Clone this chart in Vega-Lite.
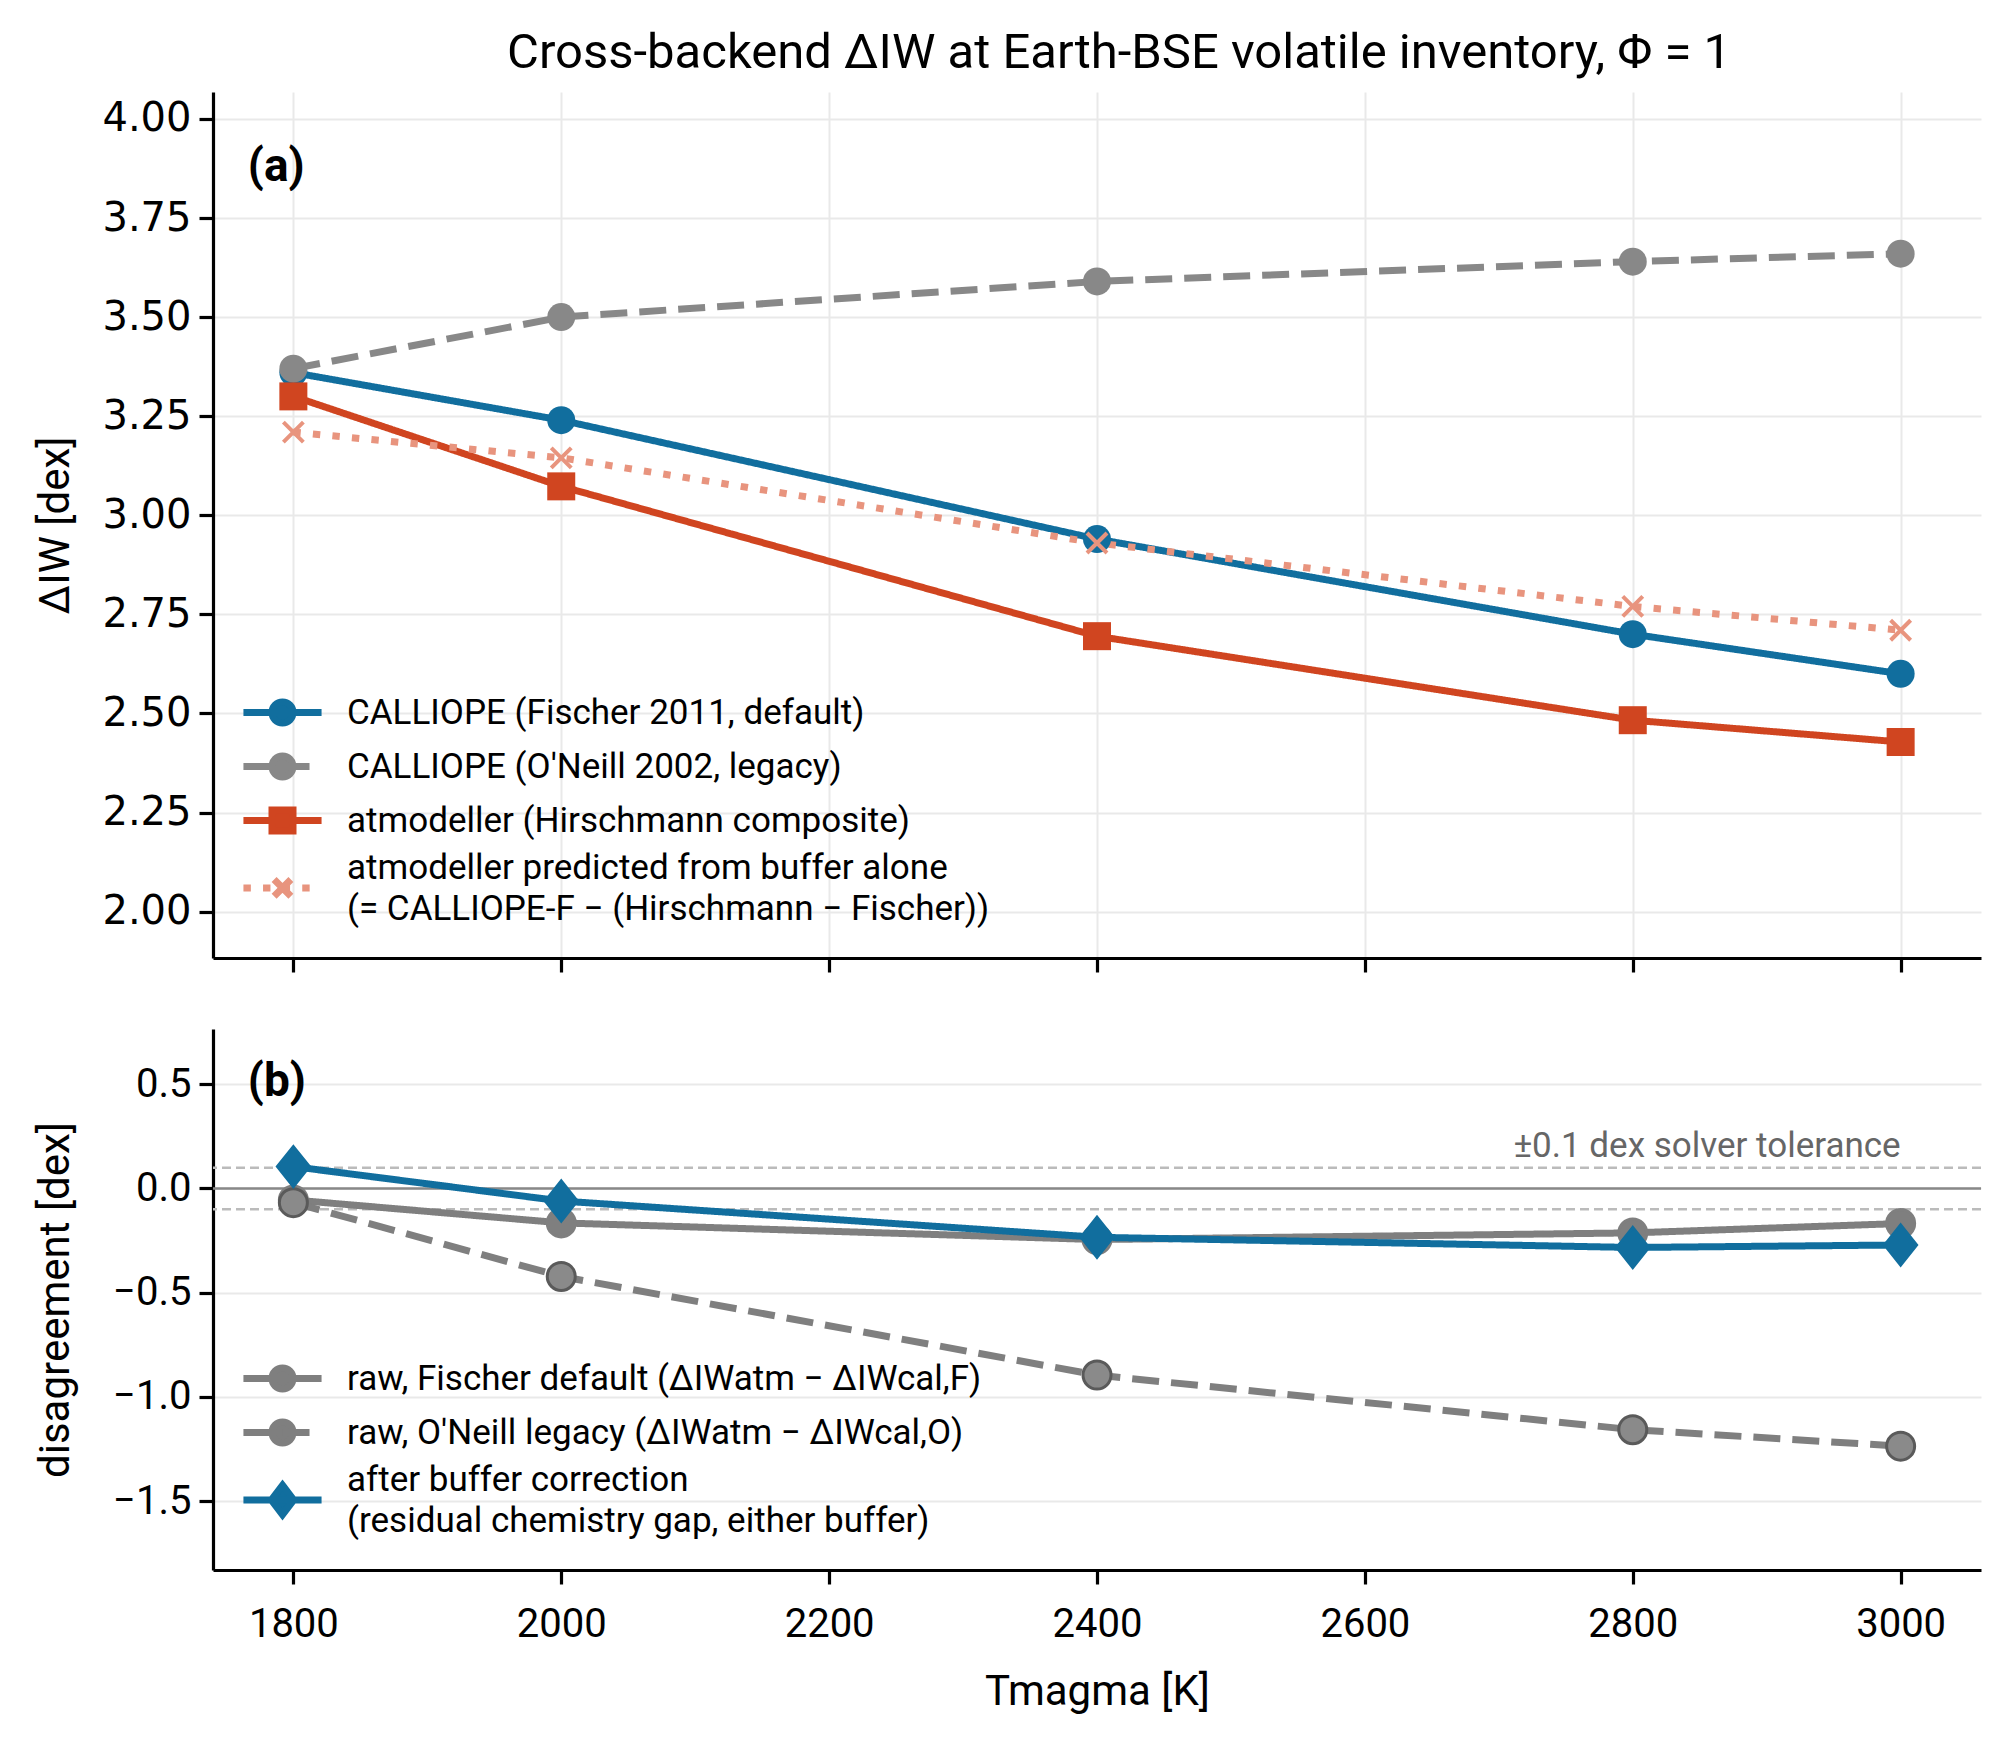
{
  "$schema": "https://vega.github.io/schema/vega-lite/v6.json",
  "background": "white",
  "padding": {"left": 33, "top": 29, "right": 20, "bottom": 20},
  "spacing": 55,
  "config": {
    "font": "Roboto",
    "view": {"stroke": null},
    "axis": {
      "domainColor": "black", "domainWidth": 3.2,
      "tickColor": "black", "tickWidth": 3.2, "tickSize": 14,
      "labelFont": "Roboto", "labelFontSize": 40, "labelColor": "black",
      "titleFont": "Roboto", "titleFontSize": 42, "titleFontWeight": "normal", "titleColor": "black",
      "gridColor": "#e9e9e9", "gridWidth": 2
    }
  },
  "datasets": {
    "top": [
      {"T": 1800, "series": "fischer", "v": 3.36},
      {"T": 2000, "series": "fischer", "v": 3.24},
      {"T": 2400, "series": "fischer", "v": 2.94},
      {"T": 2800, "series": "fischer", "v": 2.70},
      {"T": 3000, "series": "fischer", "v": 2.60},
      {"T": 1800, "series": "oneill", "v": 3.37},
      {"T": 2000, "series": "oneill", "v": 3.50},
      {"T": 2400, "series": "oneill", "v": 3.59},
      {"T": 2800, "series": "oneill", "v": 3.64},
      {"T": 3000, "series": "oneill", "v": 3.66},
      {"T": 1800, "series": "atmodeller", "v": 3.30},
      {"T": 2000, "series": "atmodeller", "v": 3.073},
      {"T": 2400, "series": "atmodeller", "v": 2.695},
      {"T": 2800, "series": "atmodeller", "v": 2.483},
      {"T": 3000, "series": "atmodeller", "v": 2.428},
      {"T": 1800, "series": "predicted", "v": 3.21},
      {"T": 2000, "series": "predicted", "v": 3.145},
      {"T": 2400, "series": "predicted", "v": 2.93},
      {"T": 2800, "series": "predicted", "v": 2.77},
      {"T": 3000, "series": "predicted", "v": 2.71}
    ],
    "bottom": [
      {"T": 1800, "series": "rawF", "v": -0.055},
      {"T": 2000, "series": "rawF", "v": -0.165},
      {"T": 2400, "series": "rawF", "v": -0.245},
      {"T": 2800, "series": "rawF", "v": -0.213},
      {"T": 3000, "series": "rawF", "v": -0.168},
      {"T": 1800, "series": "rawO", "v": -0.068},
      {"T": 2000, "series": "rawO", "v": -0.422},
      {"T": 2400, "series": "rawO", "v": -0.895},
      {"T": 2800, "series": "rawO", "v": -1.157},
      {"T": 3000, "series": "rawO", "v": -1.236},
      {"T": 1800, "series": "corr", "v": 0.105},
      {"T": 2000, "series": "corr", "v": -0.06},
      {"T": 2400, "series": "corr", "v": -0.234},
      {"T": 2800, "series": "corr", "v": -0.283},
      {"T": 3000, "series": "corr", "v": -0.271}
    ],
    "refs": [
      {"kind": "zero", "v": 0},
      {"kind": "tol", "v": 0.1},
      {"kind": "tol", "v": -0.1}
    ]
  },
  "vconcat": [
    {
      "width": 1768,
      "height": 866,
      "title": {"text": "Cross-backend ΔIW at Earth-BSE volatile inventory, Φ = 1", "fontSize": 49, "fontWeight": "normal", "font": "Roboto", "color": "black", "anchor": "middle", "frame": "group", "offset": 14, "dx": 22},
      "resolve": {"scale": {"color": "independent", "shape": "independent", "stroke": "independent"}},
      "layer": [
        {
          "data": {"name": "top"},
          "mark": {"type": "line", "strokeWidth": 7},
          "encoding": {
            "x": {"field": "T", "type": "quantitative", "scale": {"domain": [1740, 3060], "nice": false, "zero": false},
                  "axis": {"values": [1800, 2000, 2200, 2400, 2600, 2800, 3000], "labels": false, "title": null}},
            "y": {"field": "v", "type": "quantitative", "scale": {"domain": [1.883, 4.068], "nice": false, "zero": false},
                  "axis": {"values": [2, 2.25, 2.5, 2.75, 3, 3.25, 3.5, 3.75, 4], "format": ".2f", "title": "ΔIW [dex]", "titleX": -158, "titleBaseline": "middle", "labelPadding": 8, "labelFont": "DejaVu Sans", "labelFontSize": 40}},
            "color": {"field": "series", "type": "nominal", "scale": {"domain": ["fischer", "oneill", "atmodeller", "predicted"], "range": ["#116e9e", "#888888", "#d04520", "#e8947e"]}, "legend": null},
            "strokeDash": {"field": "series", "type": "nominal", "scale": {"domain": ["fischer", "oneill", "atmodeller", "predicted"], "range": [[1, 0], [27, 12], [1, 0], [7.4, 12.2]]}, "legend": null}
          }
        },
        {
          "data": {"name": "top"},
          "transform": [{"filter": "datum.series != 'predicted'"}],
          "mark": {"type": "point", "filled": true, "opacity": 1, "size": 784},
          "encoding": {
            "x": {"field": "T", "type": "quantitative"},
            "y": {"field": "v", "type": "quantitative"},
            "color": {"field": "series", "type": "nominal", "scale": {"domain": ["fischer", "oneill", "atmodeller", "predicted"], "range": ["#116e9e", "#888888", "#d04520", "#e8947e"]}, "legend": null},
            "shape": {"field": "series", "type": "nominal", "scale": {"domain": ["fischer", "oneill", "atmodeller", "predicted"], "range": ["circle", "circle", "square", "circle"]}, "legend": null}
          }
        },
        {
          "data": {"name": "top"},
          "transform": [{"filter": "datum.series == 'predicted'"}],
          "mark": {"type": "point", "filled": false, "opacity": 1, "size": 400, "shape": "M-1,-1L1,1M-1,1L1,-1", "stroke": "#e8947e", "strokeWidth": 4},
          "encoding": {
            "x": {"field": "T", "type": "quantitative"},
            "y": {"field": "v", "type": "quantitative"}
          }
        },
        {
          "data": {"name": "top"},
          "mark": {"type": "point", "filled": true, "opacity": 0},
          "encoding": {
            "x": {"field": "T", "type": "quantitative"},
            "y": {"field": "v", "type": "quantitative"},
            "color": {"field": "series", "type": "nominal", "scale": {"domain": ["fischer", "oneill", "atmodeller", "predicted"], "range": ["#116e9e", "#888888", "#d04520", "#e8947e"]},
              "legend": {"title": null, "orient": "bottom-left", "offset": 31, "padding": 0, "symbolSize": 784, "symbolStrokeWidth": 7, "symbolOpacity": 1, "labelFontSize": 35, "labelFont": "Roboto", "labelColor": "black", "labelOffset": 68, "labelLimit": 1200, "rowPadding": 5,
                "labelExpr": "datum.value == 'fischer' ? 'CALLIOPE (Fischer 2011, default)' : datum.value == 'oneill' ? \"CALLIOPE (O'Neill 2002, legacy)\" : datum.value == 'atmodeller' ? 'atmodeller (Hirschmann composite)' : ['atmodeller predicted from buffer alone', '(= CALLIOPE-F − (Hirschmann − Fischer))']",
                "encode": {"labels": {"update": {"lineHeight": {"value": 41}}}}}},
            "stroke": {"field": "series", "type": "nominal", "scale": {"domain": ["fischer", "oneill", "atmodeller", "predicted"], "range": ["#116e9e", "#888888", "#d04520", "#e8947e"]},
              "legend": {"title": null, "orient": "bottom-left", "offset": 31, "padding": 0, "symbolSize": 784, "symbolStrokeWidth": 7, "symbolOpacity": 1, "labelFontSize": 35, "labelFont": "Roboto", "labelColor": "black", "labelOffset": 68, "labelLimit": 1200, "rowPadding": 5,
                "labelExpr": "datum.value == 'fischer' ? 'CALLIOPE (Fischer 2011, default)' : datum.value == 'oneill' ? \"CALLIOPE (O'Neill 2002, legacy)\" : datum.value == 'atmodeller' ? 'atmodeller (Hirschmann composite)' : ['atmodeller predicted from buffer alone', '(= CALLIOPE-F − (Hirschmann − Fischer))']",
                "encode": {"labels": {"update": {"lineHeight": {"value": 41}}}}}},
            "shape": {"field": "series", "type": "nominal", "scale": {"domain": ["fischer", "oneill", "atmodeller", "predicted"], "range": [
                "M-1.29,0H4.29M2.25,0A0.75,0.75,0,1,1,0.75,0A0.75,0.75,0,1,1,2.25,0Z",
                "M-1.29,0H0.64M1.5,0H3.43M2.25,0A0.75,0.75,0,1,1,0.75,0A0.75,0.75,0,1,1,2.25,0Z",
                "M-1.29,0H4.29M0.75,-0.75H2.25V0.75H0.75Z",
                "M-1.29,1.46H-0.76M0.11,1.46H0.64M1.51,1.46H2.04M2.91,1.46H3.44M0.9,0.86L2.1,2.06M0.9,2.06L2.1,0.86"]},
              "legend": {"title": null, "orient": "bottom-left", "offset": 31, "padding": 0, "symbolSize": 784, "symbolStrokeWidth": 7, "symbolOpacity": 1, "labelFontSize": 35, "labelFont": "Roboto", "labelColor": "black", "labelOffset": 68, "labelLimit": 1200, "rowPadding": 5,
                "labelExpr": "datum.value == 'fischer' ? 'CALLIOPE (Fischer 2011, default)' : datum.value == 'oneill' ? \"CALLIOPE (O'Neill 2002, legacy)\" : datum.value == 'atmodeller' ? 'atmodeller (Hirschmann composite)' : ['atmodeller predicted from buffer alone', '(= CALLIOPE-F − (Hirschmann − Fischer))']",
                "encode": {"labels": {"update": {"lineHeight": {"value": 41}}}}}}
          }
        },
        {
          "data": {"values": [{"label": "(a)"}]},
          "mark": {"type": "text", "align": "left", "baseline": "middle", "fontSize": 46, "fontWeight": "bold", "font": "Roboto", "color": "black"},
          "encoding": {
            "x": {"datum": 1766, "type": "quantitative"},
            "y": {"datum": 3.88, "type": "quantitative"},
            "text": {"field": "label"}
          }
        }
      ]
    },
    {
      "width": 1768,
      "height": 541,
      "resolve": {"scale": {"color": "independent", "shape": "independent", "stroke": "independent"}},
      "layer": [
        {
          "data": {"name": "refs"},
          "transform": [{"filter": "datum.kind == 'zero'"}],
          "mark": {"type": "rule", "color": "#888888", "strokeWidth": 2.5},
          "encoding": {
            "y": {"field": "v", "type": "quantitative", "scale": {"domain": [-1.83, 0.765], "nice": false, "zero": false},
                  "axis": {"values": [-1.5, -1, -0.5, 0, 0.5], "format": ".1f", "title": "disagreement [dex]", "titleX": -158, "titleBaseline": "middle", "labelPadding": 8}}
          }
        },
        {
          "data": {"name": "refs"},
          "transform": [{"filter": "datum.kind == 'tol'"}],
          "mark": {"type": "rule", "color": "#bbbbbb", "strokeWidth": 2.5, "strokeDash": [9, 5]},
          "encoding": {
            "y": {"field": "v", "type": "quantitative"}
          }
        },
        {
          "data": {"values": [{"label": "±0.1 dex solver tolerance"}]},
          "mark": {"type": "text", "align": "right", "baseline": "alphabetic", "dy": -11, "fontSize": 35, "font": "Roboto", "color": "#666666"},
          "encoding": {
            "x": {"datum": 3000, "type": "quantitative"},
            "y": {"datum": 0.1, "type": "quantitative"},
            "text": {"field": "label"}
          }
        },
        {
          "data": {"name": "bottom"},
          "mark": {"type": "line", "strokeWidth": 7},
          "encoding": {
            "x": {"field": "T", "type": "quantitative", "scale": {"domain": [1740, 3060], "nice": false, "zero": false},
                  "axis": {"values": [1800, 2000, 2200, 2400, 2600, 2800, 3000], "format": "d", "title": "Tmagma [K]", "labelPadding": 20, "titlePadding": 27}},
            "y": {"field": "v", "type": "quantitative"},
            "color": {"field": "series", "type": "nominal", "scale": {"domain": ["rawF", "rawO", "corr"], "range": ["#7f7f7f", "#7f7f7f", "#116e9e"]}, "legend": null},
            "strokeDash": {"field": "series", "type": "nominal", "scale": {"domain": ["rawF", "rawO", "corr"], "range": [[1, 0], [27, 12], [1, 0]]}, "legend": null}
          }
        },
        {
          "data": {"name": "bottom"},
          "mark": {"type": "point", "filled": true, "opacity": 1, "size": 784, "strokeWidth": 3},
          "encoding": {
            "x": {"field": "T", "type": "quantitative"},
            "y": {"field": "v", "type": "quantitative"},
            "color": {"field": "series", "type": "nominal", "scale": {"domain": ["rawF", "rawO", "corr"], "range": ["#7f7f7f", "#8a8a8a", "#116e9e"]}, "legend": null},
            "stroke": {"field": "series", "type": "nominal", "scale": {"domain": ["rawF", "rawO", "corr"], "range": ["#7f7f7f", "#5a5a5a", "#116e9e"]}, "legend": null},
            "shape": {"field": "series", "type": "nominal", "scale": {"domain": ["rawF", "rawO", "corr"], "range": ["circle", "circle", "M0,-1.43L1.14,0L0,1.43L-1.14,0Z"]}, "legend": null}
          }
        },
        {
          "data": {"name": "bottom"},
          "mark": {"type": "point", "filled": true, "opacity": 0},
          "encoding": {
            "x": {"field": "T", "type": "quantitative"},
            "y": {"field": "v", "type": "quantitative"},
            "color": {"field": "series", "type": "nominal", "scale": {"domain": ["rawF", "rawO", "corr"], "range": ["#7f7f7f", "#7f7f7f", "#116e9e"]},
              "legend": {"title": null, "orient": "bottom-left", "offset": 31, "padding": 0, "symbolSize": 784, "symbolStrokeWidth": 7, "symbolOpacity": 1, "labelFontSize": 35, "labelFont": "Roboto", "labelColor": "black", "labelOffset": 68, "labelLimit": 1200, "rowPadding": 5,
                "labelExpr": "datum.value == 'rawF' ? 'raw, Fischer default (ΔIWatm − ΔIWcal,F)' : datum.value == 'rawO' ? \"raw, O'Neill legacy (ΔIWatm − ΔIWcal,O)\" : ['after buffer correction', '(residual chemistry gap, either buffer)']",
                "encode": {"labels": {"update": {"lineHeight": {"value": 41}}}}}},
            "stroke": {"field": "series", "type": "nominal", "scale": {"domain": ["rawF", "rawO", "corr"], "range": ["#7f7f7f", "#7f7f7f", "#116e9e"]},
              "legend": {"title": null, "orient": "bottom-left", "offset": 31, "padding": 0, "symbolSize": 784, "symbolStrokeWidth": 7, "symbolOpacity": 1, "labelFontSize": 35, "labelFont": "Roboto", "labelColor": "black", "labelOffset": 68, "labelLimit": 1200, "rowPadding": 5,
                "labelExpr": "datum.value == 'rawF' ? 'raw, Fischer default (ΔIWatm − ΔIWcal,F)' : datum.value == 'rawO' ? \"raw, O'Neill legacy (ΔIWatm − ΔIWcal,O)\" : ['after buffer correction', '(residual chemistry gap, either buffer)']",
                "encode": {"labels": {"update": {"lineHeight": {"value": 41}}}}}},
            "shape": {"field": "series", "type": "nominal", "scale": {"domain": ["rawF", "rawO", "corr"], "range": [
                "M-1.29,0H4.29M2.25,0A0.75,0.75,0,1,1,0.75,0A0.75,0.75,0,1,1,2.25,0Z",
                "M-1.29,0H0.64M1.5,0H3.43M2.25,0A0.75,0.75,0,1,1,0.75,0A0.75,0.75,0,1,1,2.25,0Z",
                "M-1.29,1.46H4.29M1.5,0.41L2.3,1.46L1.5,2.51L0.7,1.46Z"]},
              "legend": {"title": null, "orient": "bottom-left", "offset": 31, "padding": 0, "symbolSize": 784, "symbolStrokeWidth": 7, "symbolOpacity": 1, "labelFontSize": 35, "labelFont": "Roboto", "labelColor": "black", "labelOffset": 68, "labelLimit": 1200, "rowPadding": 5,
                "labelExpr": "datum.value == 'rawF' ? 'raw, Fischer default (ΔIWatm − ΔIWcal,F)' : datum.value == 'rawO' ? \"raw, O'Neill legacy (ΔIWatm − ΔIWcal,O)\" : ['after buffer correction', '(residual chemistry gap, either buffer)']",
                "encode": {"labels": {"update": {"lineHeight": {"value": 41}}}}}}
          }
        },
        {
          "data": {"values": [{"label": "(b)"}]},
          "mark": {"type": "text", "align": "left", "baseline": "middle", "fontSize": 46, "fontWeight": "bold", "font": "Roboto", "color": "black"},
          "encoding": {
            "x": {"datum": 1766, "type": "quantitative"},
            "y": {"datum": 0.513, "type": "quantitative"},
            "text": {"field": "label"}
          }
        }
      ]
    }
  ]
}
